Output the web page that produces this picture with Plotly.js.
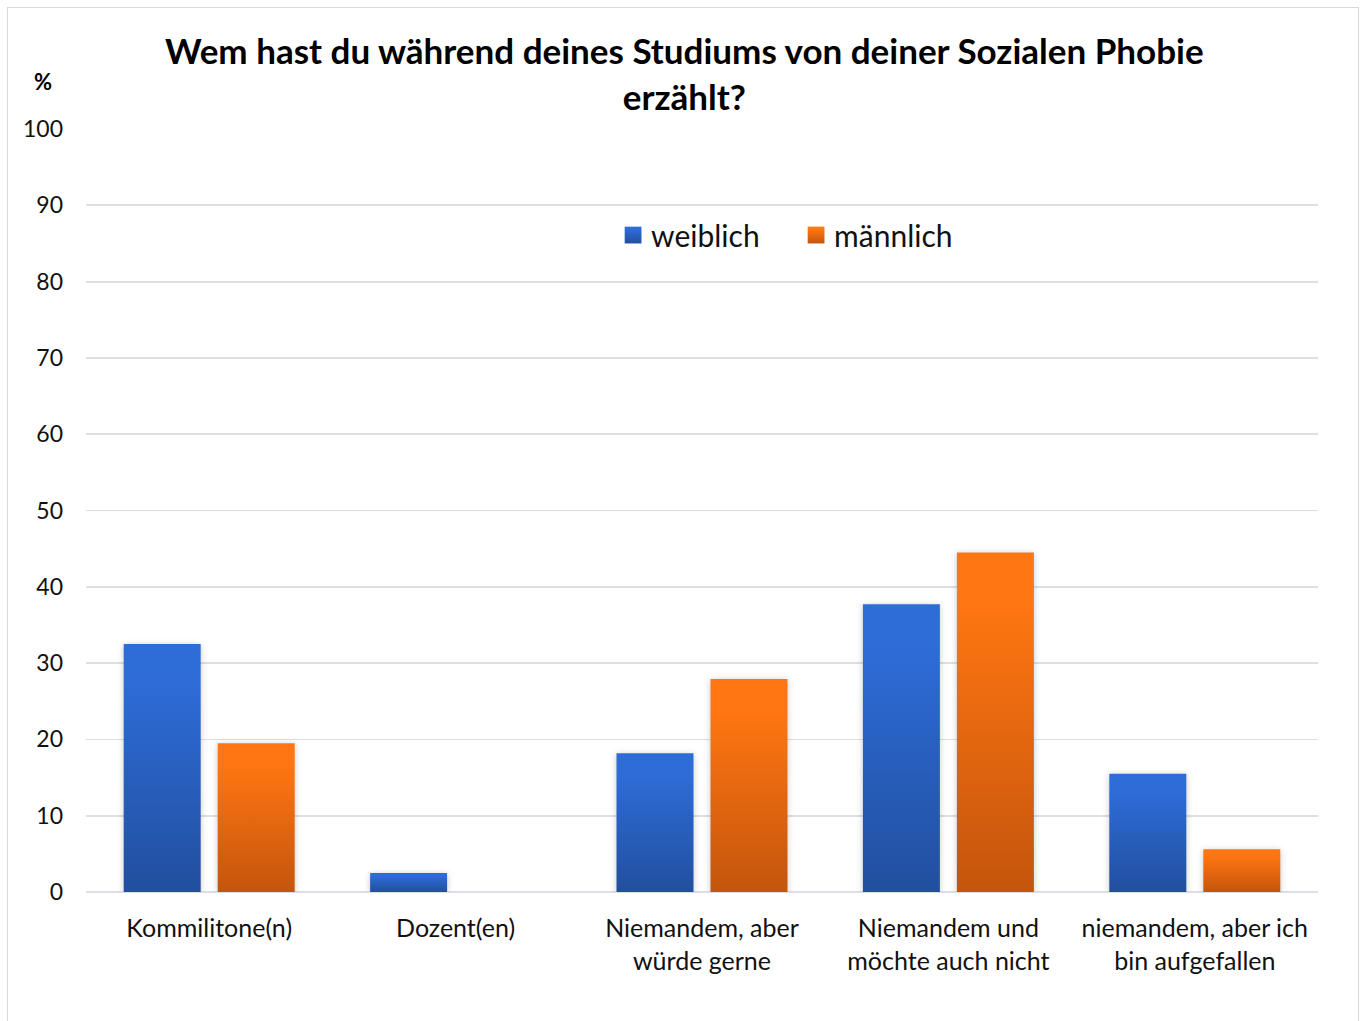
<!DOCTYPE html>
<html>
<head>
<meta charset="utf-8">
<script src="https://cdn.plot.ly/plotly-3.0.1.min.js"></script>
<style>
  html, body { margin: 0; padding: 0; background: #ffffff; overflow: hidden; }
  #chart { position: absolute; left: 7px; top: 7px; width: 1350px; height: 1013px;
           border: 1px solid #d9d9d9; border-bottom: none; }
</style>
</head>
<body>
<div id="chart"></div>
<script>
const categories = [
  "Kommilitone(n)",
  "Dozent(en)",
  "Niemandem, aber<br>würde gerne",
  "Niemandem und<br>möchte auch nicht",
  "niemandem, aber ich<br>bin aufgefallen"
];
const weiblich = [32.5, 2.5, 18.2, 37.7, 15.5];
const maennlich = [19.5, 0, 27.9, 44.5, 5.6];
const yTicks = [0, 10, 20, 30, 40, 50, 60, 70, 80, 90, 100];
const seriesNames = ["weiblich", "männlich"];
const chartTitle = "Wem hast du während deines Studiums von deiner Sozialen Phobie<br>erzählt?";
const yUnit = "%";

const FONT = "Lato, 'Open Sans', sans-serif";

const traces = [
  { type: "bar", name: seriesNames[0], x: categories, y: weiblich,
    marker: { color: "#2b63c9" }, hoverinfo: "x+y" },
  { type: "bar", name: seriesNames[1], x: categories, y: maennlich,
    marker: { color: "#ea6c13" }, hoverinfo: "x+y" }
];

const layout = {
  width: 1350, height: 1013,
  paper_bgcolor: "#ffffff", plot_bgcolor: "#ffffff",
  margin: { l: 78, r: 40, t: 121, b: 129, pad: 0 },
  font: { family: FONT, color: "#111111" },
  barmode: "group",
  bargap: 0.237,
  bargroupgap: 0.181,
  xaxis: {
    type: "category",
    showgrid: false, zeroline: false, showline: false,
    ticks: "", tickfont: { family: FONT, size: 25, color: "#111111" },
    ticklabelstandoff: 19
  },
  yaxis: {
    range: [0, 100], tickvals: yTicks, ticktext: yTicks.map(String),
    showgrid: true, gridcolor: "#dcdfe5", gridwidth: 1.8,
    zeroline: true, zerolinecolor: "#dcdfe5", zerolinewidth: 1.8,
    showline: false, ticks: "",
    tickfont: { family: FONT, size: 23, color: "#111111" },
    ticklabelstandoff: 22
  },
  legend: {
    orientation: "h", x: 0.4262, xanchor: "left", y: 0.861, yanchor: "middle",
    font: { family: FONT, size: 30, color: "#111111" },
    bgcolor: "rgba(0,0,0,0)", itemwidth: 30, entrywidth: 138
  },
  annotations: [
    {
      text: "<b>" + chartTitle + "</b>", xref: "paper", yref: "paper",
      x: 0.4862, y: 1.0735, xanchor: "center", yanchor: "middle",
      showarrow: false, align: "center",
      font: { family: FONT, size: 35, color: "#000000" }
    },
    {
      text: "<b>" + yUnit + "</b>", xref: "paper", yref: "paper",
      x: -0.035, y: 1.0616, xanchor: "center", yanchor: "middle",
      showarrow: false, font: { family: FONT, size: 22, color: "#000000" }
    }
  ],
  showlegend: true
};

function addGradients(gd) {
  const svg = gd.querySelector("svg.main-svg");
  if (!svg) return;
  let defs = svg.querySelector("defs");
  if (!defs) { defs = document.createElementNS("http://www.w3.org/2000/svg", "defs"); svg.insertBefore(defs, svg.firstChild); }
  const mk = (id, top, bottom) => {
    if (defs.querySelector("#" + id)) return;
    const g = document.createElementNS("http://www.w3.org/2000/svg", "linearGradient");
    g.setAttribute("id", id);
    g.setAttribute("x1", "0"); g.setAttribute("y1", "0");
    g.setAttribute("x2", "0"); g.setAttribute("y2", "1");
    [[0, top], [0.15, top], [1, bottom]].forEach(([o, c]) => {
      const s = document.createElementNS("http://www.w3.org/2000/svg", "stop");
      s.setAttribute("offset", o); s.setAttribute("stop-color", c);
      g.appendChild(s);
    });
    defs.appendChild(g);
  };
  mk("gradBlue", "#2e6cd8", "#214f9e");
  mk("gradOrange", "#ff7612", "#c4550c");
  const ids = ["gradBlue", "gradOrange"];
  gd.querySelectorAll(".barlayer .trace").forEach((t, i) => {
    t.querySelectorAll("path").forEach(p => {
      p.style.fill = "url(#" + ids[i % 2] + ")";
      p.style.filter = "drop-shadow(0px 1px 3px rgba(0,0,0,0.22))";
    });
  });
  gd.querySelectorAll(".legend .traces").forEach((t, i) => {
    t.querySelectorAll(".legendpoints path").forEach(p => {
      p.style.fill = "url(#" + ids[i % 2] + ")"; p.style.stroke = "none";
      p.setAttribute("transform", "translate(22,0) scale(1.4)");
    });
  });
}

const gd = document.getElementById("chart");
Plotly.newPlot(gd, traces, layout, { displayModeBar: false, staticPlot: true }).then(() => {
  addGradients(gd);
  gd.on("plotly_afterplot", () => addGradients(gd));
});
</script>
</body>
</html>
